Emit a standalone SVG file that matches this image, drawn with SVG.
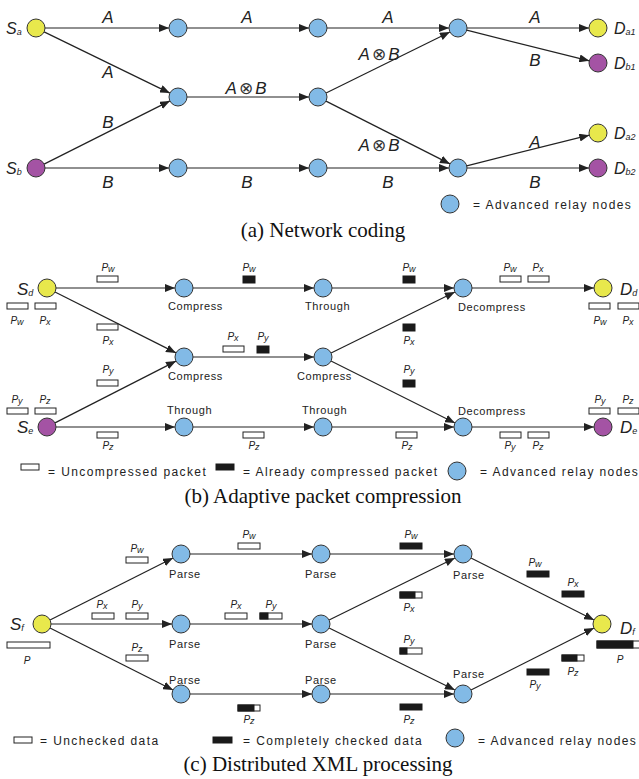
<svg xmlns="http://www.w3.org/2000/svg" width="639" height="779" viewBox="0 0 639 779">
<style>
.edge{stroke:#222;stroke-width:1.2;fill:none;marker-end:url(#ah)}
.relay{fill:#82bae6;stroke:#333;stroke-width:1}
.yel{fill:#e8e84c;stroke:#333;stroke-width:1}
.pur{fill:#a453a4;stroke:#333;stroke-width:1}
.lbl{font-family:"Liberation Sans",Arial,sans-serif;font-style:italic;font-size:17px;fill:#222;text-anchor:middle}
.nm{font-family:"Liberation Sans",Arial,sans-serif;font-style:italic;font-size:17px;fill:#222}
.s{font-size:9px}
.pl{font-family:"Liberation Sans",Arial,sans-serif;font-style:italic;font-size:10px;fill:#222;text-anchor:middle}
.ps{font-size:9px}
.op{font-family:"DejaVu Sans",sans-serif;font-style:normal;font-size:17px;fill:#333}
.role{font-family:"Liberation Sans",Arial,sans-serif;font-size:11px;letter-spacing:0.6px;fill:#222}
.leg{font-family:"Liberation Sans",Arial,sans-serif;font-size:12px;letter-spacing:1.4px;fill:#222}
.cap{font-family:"Liberation Serif","Times New Roman",serif;font-size:21px;fill:#111;text-anchor:middle}
.pw{fill:#fff;stroke:#222;stroke-width:1}
.pb{fill:#1a1a1a;stroke:#1a1a1a;stroke-width:1}
</style>
<defs>
<marker id="ah" viewBox="0 0 10 8" refX="10" refY="4" markerWidth="10" markerHeight="8" orient="auto" markerUnits="userSpaceOnUse">
<path d="M0,0 L10,4 L0,8 z" fill="#222"/>
</marker>
</defs>
<rect width="639" height="779" fill="#fff"/>

<!-- ================= Panel (a) ================= -->
<g id="connectors-a">
<line class="edge" x1="45" y1="28" x2="169" y2="28"/>
<line class="edge" x1="44.1" y1="31.9" x2="169.9" y2="93.1"/>
<line class="edge" x1="44.1" y1="164.1" x2="169.9" y2="100.9"/>
<line class="edge" x1="45" y1="168" x2="169" y2="168"/>
<line class="edge" x1="187" y1="28" x2="309" y2="28"/>
<line class="edge" x1="187" y1="97" x2="309" y2="97"/>
<line class="edge" x1="187" y1="168" x2="309" y2="168"/>
<line class="edge" x1="327" y1="28" x2="449" y2="28"/>
<line class="edge" x1="326.1" y1="93" x2="449.9" y2="32"/>
<line class="edge" x1="326" y1="101.1" x2="450" y2="163.9"/>
<line class="edge" x1="327" y1="168" x2="449" y2="168"/>
<line class="edge" x1="467" y1="28" x2="589" y2="28"/>
<line class="edge" x1="466.7" y1="30.2" x2="589.3" y2="60.8"/>
<line class="edge" x1="466.7" y1="165.8" x2="589.3" y2="135.2"/>
<line class="edge" x1="467" y1="168" x2="589" y2="168"/>
</g>
<g id="edge-labels-a">
<text class="lbl" x="108" y="23">A</text>
<text class="lbl" x="247" y="23">A</text>
<text class="lbl" x="388" y="23">A</text>
<text class="lbl" x="535" y="23">A</text>
<text class="lbl" x="108" y="78">A</text>
<text class="lbl" x="108" y="128">B</text>
<text class="lbl" x="246" y="94">A<tspan class="op" dx="2">⊗</tspan><tspan dx="2">B</tspan></text>
<text class="lbl" x="379" y="60">A<tspan class="op" dx="2">⊗</tspan><tspan dx="2">B</tspan></text>
<text class="lbl" x="379" y="151">A<tspan class="op" dx="2">⊗</tspan><tspan dx="2">B</tspan></text>
<text class="lbl" x="535" y="66">B</text>
<text class="lbl" x="535" y="148">A</text>
<text class="lbl" x="108" y="188">B</text>
<text class="lbl" x="247" y="188">B</text>
<text class="lbl" x="388" y="188">B</text>
<text class="lbl" x="535" y="188">B</text>
</g>
<g id="Sa"><circle class="yel" cx="36" cy="28" r="9"/><text class="nm" x="6" y="34" style="font-size:16px">S<tspan class="s" dy="1">a</tspan></text></g>
<g id="Sb"><circle class="pur" cx="36" cy="168" r="9"/><text class="nm" x="6" y="174" style="font-size:16px">S<tspan class="s" dy="1">b</tspan></text></g>
<g id="a-r1"><circle class="relay" cx="178" cy="28" r="9"/></g>
<g id="a-r2"><circle class="relay" cx="178" cy="97" r="9"/></g>
<g id="a-r3"><circle class="relay" cx="178" cy="168" r="9"/></g>
<g id="a-r4"><circle class="relay" cx="318" cy="28" r="9"/></g>
<g id="a-r5"><circle class="relay" cx="318" cy="97" r="9"/></g>
<g id="a-r6"><circle class="relay" cx="318" cy="168" r="9"/></g>
<g id="a-r7"><circle class="relay" cx="458" cy="28" r="9"/></g>
<g id="a-r8"><circle class="relay" cx="458" cy="168" r="9"/></g>
<g id="Da1"><circle class="yel" cx="598" cy="28" r="9"/><text class="nm" x="614" y="34" style="font-size:16px">D<tspan class="s" dy="1">a1</tspan></text></g>
<g id="Db1"><circle class="pur" cx="598" cy="63" r="9"/><text class="nm" x="614" y="69" style="font-size:16px">D<tspan class="s" dy="1">b1</tspan></text></g>
<g id="Da2"><circle class="yel" cx="598" cy="133" r="9"/><text class="nm" x="614" y="139" style="font-size:16px">D<tspan class="s" dy="1">a2</tspan></text></g>
<g id="Db2"><circle class="pur" cx="598" cy="168" r="9"/><text class="nm" x="614" y="174" style="font-size:16px">D<tspan class="s" dy="1">b2</tspan></text></g>
<g id="legend-a"><circle class="relay" cx="450" cy="204" r="9"/><text class="leg" x="473" y="209">= Advanced relay nodes</text></g>
<text class="cap" x="323" y="237">(a) Network coding</text>

<!-- ================= Panel (b) ================= -->
<g id="connectors-b">
<line class="edge" x1="56" y1="288" x2="175" y2="288"/>
<line class="edge" x1="55" y1="292" x2="176" y2="352.9"/>
<line class="edge" x1="55" y1="422.9" x2="176" y2="361.1"/>
<line class="edge" x1="56" y1="427" x2="175" y2="427"/>
<line class="edge" x1="193" y1="288" x2="314" y2="288"/>
<line class="edge" x1="193" y1="357" x2="314" y2="357"/>
<line class="edge" x1="193" y1="427" x2="314" y2="427"/>
<line class="edge" x1="332" y1="288" x2="454" y2="288"/>
<line class="edge" x1="331.1" y1="353" x2="454.9" y2="292"/>
<line class="edge" x1="331" y1="361" x2="455" y2="423"/>
<line class="edge" x1="332" y1="427" x2="454" y2="427"/>
<line class="edge" x1="472" y1="288" x2="594" y2="288"/>
<line class="edge" x1="472" y1="427" x2="594" y2="427"/>
</g>
<g id="Sd"><circle class="yel" cx="47" cy="288" r="9"/><text class="nm" x="17" y="295">S<tspan class="s" dy="1">d</tspan></text></g>
<g id="Se"><circle class="pur" cx="47" cy="427" r="9"/><text class="nm" x="17" y="433">S<tspan class="s" dy="1">e</tspan></text></g>
<g id="b-r1"><circle class="relay" cx="184" cy="288" r="9"/><text class="role" x="168" y="310">Compress</text></g>
<g id="b-r2"><circle class="relay" cx="184" cy="357" r="9"/><text class="role" x="168" y="380">Compress</text></g>
<g id="b-r3"><circle class="relay" cx="184" cy="427" r="9"/><text class="role" x="167" y="414">Through</text></g>
<g id="b-r4"><circle class="relay" cx="323" cy="288" r="9"/><text class="role" x="305" y="310">Through</text></g>
<g id="b-r5"><circle class="relay" cx="323" cy="357" r="9"/><text class="role" x="297" y="380">Compress</text></g>
<g id="b-r6"><circle class="relay" cx="323" cy="427" r="9"/><text class="role" x="302" y="414">Through</text></g>
<g id="b-r7"><circle class="relay" cx="463" cy="288" r="9"/><text class="role" x="458" y="311">Decompress</text></g>
<g id="b-r8"><circle class="relay" cx="463" cy="427" r="9"/><text class="role" x="458" y="415">Decompress</text></g>
<g id="Dd"><circle class="yel" cx="603" cy="288" r="9"/><text class="nm" x="620" y="295">D<tspan class="s" dy="1">d</tspan></text></g>
<g id="De"><circle class="pur" cx="603" cy="427" r="9"/><text class="nm" x="620" y="433">D<tspan class="s" dy="1">e</tspan></text></g>
<g id="packets-b">
<rect class="pw" x="97" y="276" width="21" height="6"/><text class="pl" x="108" y="271">P<tspan class="ps" dy="1">w</tspan></text>
<rect class="pb" x="243" y="276" width="12" height="7"/><text class="pl" x="249" y="271">P<tspan class="ps" dy="1">w</tspan></text>
<rect class="pb" x="403" y="276" width="12" height="7"/><text class="pl" x="409" y="271">P<tspan class="ps" dy="1">w</tspan></text>
<rect class="pw" x="500" y="276" width="21" height="6"/><text class="pl" x="510" y="271">P<tspan class="ps" dy="1">w</tspan></text>
<rect class="pw" x="528" y="276" width="21" height="6"/><text class="pl" x="538" y="271">P<tspan class="ps" dy="1">x</tspan></text>
<rect class="pw" x="7" y="303" width="21" height="6"/><text class="pl" x="17" y="324">P<tspan class="ps" dy="1">w</tspan></text>
<rect class="pw" x="35" y="303" width="21" height="6"/><text class="pl" x="45" y="324">P<tspan class="ps" dy="1">x</tspan></text>
<rect class="pw" x="589" y="303" width="21" height="6"/><text class="pl" x="600" y="324">P<tspan class="ps" dy="1">w</tspan></text>
<rect class="pw" x="618" y="303" width="21" height="6"/><text class="pl" x="628" y="324">P<tspan class="ps" dy="1">x</tspan></text>
<rect class="pw" x="97" y="324" width="21" height="6"/><text class="pl" x="108" y="344">P<tspan class="ps" dy="1">x</tspan></text>
<rect class="pw" x="223" y="346" width="21" height="6"/><text class="pl" x="233" y="340">P<tspan class="ps" dy="1">x</tspan></text>
<rect class="pb" x="257" y="346" width="12" height="7"/><text class="pl" x="263" y="340">P<tspan class="ps" dy="1">y</tspan></text>
<rect class="pb" x="403" y="324" width="12" height="7"/><text class="pl" x="409" y="344">P<tspan class="ps" dy="1">x</tspan></text>
<rect class="pw" x="97" y="380" width="21" height="6"/><text class="pl" x="108" y="373">P<tspan class="ps" dy="1">y</tspan></text>
<rect class="pb" x="403" y="380" width="12" height="7"/><text class="pl" x="409" y="373">P<tspan class="ps" dy="1">y</tspan></text>
<rect class="pw" x="7" y="408" width="21" height="6"/><text class="pl" x="17" y="403">P<tspan class="ps" dy="1">y</tspan></text>
<rect class="pw" x="35" y="408" width="21" height="6"/><text class="pl" x="45" y="403">P<tspan class="ps" dy="1">z</tspan></text>
<rect class="pw" x="589" y="408" width="21" height="6"/><text class="pl" x="600" y="403">P<tspan class="ps" dy="1">y</tspan></text>
<rect class="pw" x="618" y="408" width="21" height="6"/><text class="pl" x="628" y="403">P<tspan class="ps" dy="1">z</tspan></text>
<rect class="pw" x="97" y="432" width="21" height="6"/><text class="pl" x="108" y="449">P<tspan class="ps" dy="1">z</tspan></text>
<rect class="pw" x="243" y="432" width="21" height="6"/><text class="pl" x="254" y="449">P<tspan class="ps" dy="1">z</tspan></text>
<rect class="pw" x="396" y="432" width="21" height="6"/><text class="pl" x="407" y="449">P<tspan class="ps" dy="1">z</tspan></text>
<rect class="pw" x="500" y="432" width="21" height="6"/><text class="pl" x="510" y="449">P<tspan class="ps" dy="1">y</tspan></text>
<rect class="pw" x="528" y="432" width="21" height="6"/><text class="pl" x="538" y="449">P<tspan class="ps" dy="1">z</tspan></text>
</g>
<g id="legend-b">
<rect class="pw" x="21" y="464" width="18" height="6"/><text class="leg" x="48" y="476">= Uncompressed packet</text>
<rect class="pb" x="216" y="464" width="18" height="6"/><text class="leg" x="243" y="476">= Already compressed packet</text>
<circle class="relay" cx="457" cy="471" r="9"/><text class="leg" x="480" y="476">= Advanced relay nodes</text>
</g>
<text class="cap" x="323" y="503">(b) Adaptive packet compression</text>

<!-- ================= Panel (c) ================= -->
<g id="connectors-c">
<line class="edge" x1="50" y1="620" x2="173" y2="558"/>
<line class="edge" x1="51" y1="624" x2="172" y2="624"/>
<line class="edge" x1="50" y1="628" x2="173" y2="690"/>
<line class="edge" x1="190" y1="554" x2="312" y2="554"/>
<line class="edge" x1="190" y1="624" x2="312" y2="624"/>
<line class="edge" x1="190" y1="694" x2="312" y2="694"/>
<line class="edge" x1="330" y1="554" x2="454" y2="554"/>
<line class="edge" x1="329.1" y1="620" x2="454.9" y2="558"/>
<line class="edge" x1="329.1" y1="628" x2="454.9" y2="690"/>
<line class="edge" x1="330" y1="694" x2="454" y2="694"/>
<line class="edge" x1="471" y1="558" x2="594" y2="620"/>
<line class="edge" x1="471" y1="690" x2="594" y2="628"/>
</g>
<g id="Sf"><circle class="yel" cx="42" cy="624" r="9"/><text class="nm" x="10" y="630">S<tspan class="s" dy="1">f</tspan></text></g>
<g id="c-r1"><circle class="relay" cx="181" cy="554" r="9"/><text class="role" x="169" y="578">Parse</text></g>
<g id="c-r2"><circle class="relay" cx="181" cy="624" r="9"/><text class="role" x="169" y="648">Parse</text></g>
<g id="c-r3"><circle class="relay" cx="181" cy="694" r="9"/><text class="role" x="169" y="684">Parse</text></g>
<g id="c-r4"><circle class="relay" cx="321" cy="554" r="9"/><text class="role" x="305" y="578">Parse</text></g>
<g id="c-r5"><circle class="relay" cx="321" cy="624" r="9"/><text class="role" x="305" y="648">Parse</text></g>
<g id="c-r6"><circle class="relay" cx="321" cy="694" r="9"/><text class="role" x="305" y="684">Parse</text></g>
<g id="c-r7"><circle class="relay" cx="463" cy="554" r="9"/><text class="role" x="453" y="579">Parse</text></g>
<g id="c-r8"><circle class="relay" cx="463" cy="694" r="9"/><text class="role" x="453" y="678">Parse</text></g>
<g id="Df"><circle class="yel" cx="602" cy="624" r="9"/><text class="nm" x="620" y="634">D<tspan class="s" dy="1">f</tspan></text></g>
<g id="packets-c">
<rect class="pw" x="7" y="642" width="43" height="6"/><text class="pl" x="27" y="664">P</text>
<rect class="pw" x="126" y="557" width="22" height="6"/><text class="pl" x="137" y="552">P<tspan class="ps" dy="1">w</tspan></text>
<rect class="pw" x="92" y="613" width="22" height="6"/><text class="pl" x="102" y="608">P<tspan class="ps" dy="1">x</tspan></text>
<rect class="pw" x="126" y="613" width="22" height="6"/><text class="pl" x="137" y="608">P<tspan class="ps" dy="1">y</tspan></text>
<rect class="pw" x="126" y="655" width="22" height="6"/><text class="pl" x="137" y="651">P<tspan class="ps" dy="1">z</tspan></text>
<rect class="pw" x="238" y="543" width="22" height="6"/><text class="pl" x="249" y="538">P<tspan class="ps" dy="1">w</tspan></text>
<rect class="pw" x="225" y="613" width="22" height="6"/><text class="pl" x="236" y="608">P<tspan class="ps" dy="1">x</tspan></text>
<rect class="pw" x="260" y="613" width="22" height="6"/><rect class="pb" x="260" y="613" width="8" height="6"/><text class="pl" x="271" y="608">P<tspan class="ps" dy="1">y</tspan></text>
<rect class="pw" x="238" y="705" width="22" height="6"/><rect class="pb" x="238" y="705" width="16" height="6"/><text class="pl" x="249" y="723">P<tspan class="ps" dy="1">z</tspan></text>
<rect class="pb" x="400" y="543" width="22" height="6"/><text class="pl" x="411" y="538">P<tspan class="ps" dy="1">w</tspan></text>
<rect class="pw" x="400" y="592" width="22" height="6"/><rect class="pb" x="400" y="592" width="15" height="6"/><text class="pl" x="409" y="611">P<tspan class="ps" dy="1">x</tspan></text>
<rect class="pw" x="400" y="648" width="22" height="6"/><rect class="pb" x="400" y="648" width="7" height="6"/><text class="pl" x="409" y="643">P<tspan class="ps" dy="1">y</tspan></text>
<rect class="pb" x="400" y="704" width="22" height="6"/><text class="pl" x="409" y="723">P<tspan class="ps" dy="1">z</tspan></text>
<rect class="pb" x="527" y="571" width="22" height="6"/><text class="pl" x="535" y="566">P<tspan class="ps" dy="1">w</tspan></text>
<rect class="pb" x="562" y="591" width="22" height="6"/><text class="pl" x="573" y="586">P<tspan class="ps" dy="1">x</tspan></text>
<rect class="pw" x="562" y="655" width="22" height="6"/><rect class="pb" x="562" y="655" width="15" height="6"/><text class="pl" x="573" y="675">P<tspan class="ps" dy="1">z</tspan></text>
<rect class="pb" x="527" y="669" width="22" height="6"/><text class="pl" x="535" y="688">P<tspan class="ps" dy="1">y</tspan></text>
<rect class="pw" x="597" y="641" width="50" height="7"/><rect class="pb" x="597" y="641" width="36" height="7"/><text class="pl" x="620" y="663">P</text>
</g>
<g id="legend-c">
<rect class="pw" x="14" y="737" width="18" height="6"/><text class="leg" x="40" y="745">= Unchecked data</text>
<rect class="pb" x="213" y="737" width="19" height="6"/><text class="leg" x="243" y="745">= Completely checked data</text>
<circle class="relay" cx="455" cy="738" r="9"/><text class="leg" x="478" y="745">= Advanced relay nodes</text>
</g>
<text class="cap" x="318" y="771">(c) Distributed XML processing</text>
</svg>
